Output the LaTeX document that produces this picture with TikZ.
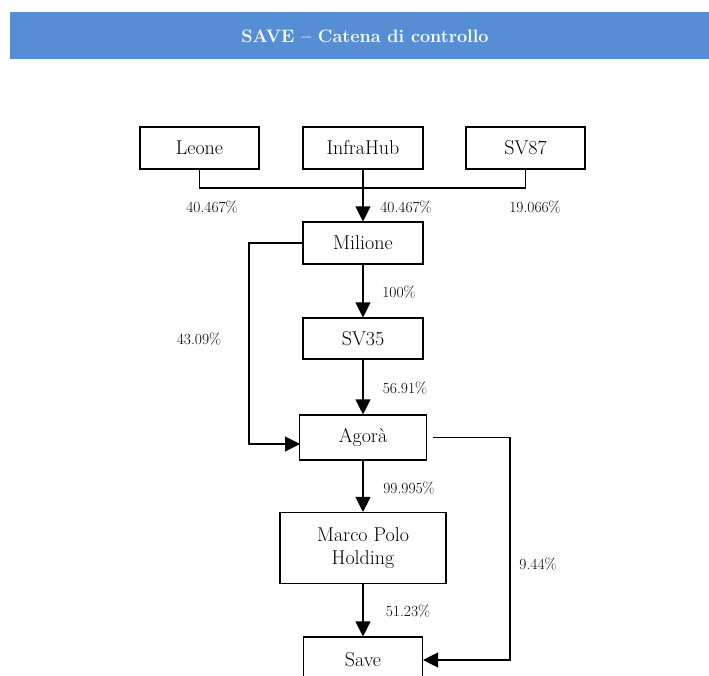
\documentclass[tikz,border=0pt]{standalone}
\usetikzlibrary{arrows.meta}

\definecolor{titleblue}{RGB}{85,142,213}
\newcommand{\boxfont}{\fontsize{20}{23}\selectfont}
\newcommand{\pctfont}{\fontsize{15.5}{18}\selectfont}
\newcommand{\titlefont}{\fontsize{18}{21}\selectfont\bfseries}

\tikzset{
  box/.style={draw, line width=1.1pt, fill=white, inner sep=0pt, align=center, font=\boxfont},
  link/.style={line width=1.1pt},
  flow/.style={link, -{Triangle[width=15pt,length=15pt]}},
  pct/.style={inner sep=0pt, font=\pctfont},
}

\begin{document}
\begin{tikzpicture}[x=1pt, y=-1pt]
        \useasboundingbox (0,0) rectangle (709,675);
        \clip (0,0) rectangle (709,675);

        % title bar
        \fill[titleblue] (10,12) rectangle (709,59);
        \node[text=white, font=\titlefont] (title) at (365,36) {SAVE -- Catena di controllo};

        % shareholders
        \node[box, minimum width=119, minimum height=42] (leone) at (199.5,148) {Leone};
        \node[box, minimum width=120, minimum height=42] (infrahub) at (363,148) {InfraHub};
        \node[box, minimum width=119, minimum height=42] (sv87) at (525.5,148) {SV87};

        % chain
        \node[box, minimum width=120, minimum height=42] (milione) at (363,243) {Milione};
        \node[box, minimum width=120, minimum height=41] (sv35) at (363,338.5) {SV35};
        \node[box, minimum width=127, minimum height=45] (agora) at (363,437.5) {Agor\`a};
        \node[box, minimum width=166, minimum height=71] (mph) at (363,548) {Marco Polo\\Holding};
        \node[box, minimum width=119, minimum height=46] (save) at (363,660) {Save};

        % bend points
        \coordinate (merge) at (363,188);
        \coordinate (loopL) at (249,444);
        \coordinate (agoraIn) at (300,444);
        \coordinate (agoraOut) at (433,437.5);
        \coordinate (loopR) at (510,437.5);

        \draw[link] (leone.south) |- (merge) -| (sv87.south);
        \draw[flow] (infrahub.south) -- (milione.north);
        \draw[flow] (milione.south) -- (sv35.north);
        \draw[flow] (sv35.south) -- (agora.north);
        \draw[flow] (agora.south) -- (mph.north);
        \draw[flow] (mph.south) -- (save.north);
        \draw[flow] (milione.west) -| (loopL) -- (agoraIn);
        \draw[flow] (agoraOut) -- (loopR) |- (save.east);

        % shares
        \node[pct] (pLeone) at (212,207) {40.467\%};
        \node[pct] (pInfra) at (406,207) {40.467\%};
        \node[pct] (pSv87) at (535,207) {19.066\%};
        \node[pct] (pMil) at (399,292) {100\%};
        \node[pct] (pLoopL) at (199,339) {43.09\%};
        \node[pct] (pSv35) at (405,388) {56.91\%};
        \node[pct] (pAgora) at (409,488) {99.995\%};
        \node[pct] (pLoopR) at (538,564) {9.44\%};
        \node[pct] (pMph) at (408,611) {51.23\%};
    \end{tikzpicture}
\end{document}
